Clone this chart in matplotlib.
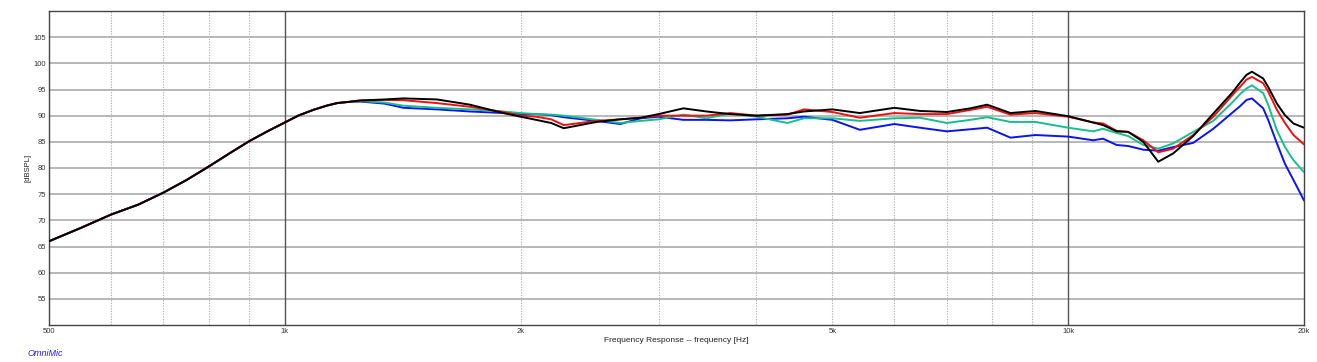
import matplotlib
matplotlib.use("Agg")
import matplotlib.pyplot as plt
from matplotlib.ticker import FixedLocator, NullLocator

plt.rcParams['font.family'] = ['Liberation Sans', 'DejaVu Sans']

# ---- data ----
freq = [500, 550, 600, 650, 700, 750, 800, 850, 900, 950, 1000,
        1040, 1087, 1130, 1166, 1200, 1248, 1341, 1418, 1564, 1723, 1900, 2000,
        2093, 2188, 2270, 2500, 2680, 2847, 3000, 3227, 3453, 3705, 4000, 4380,
        4600, 5000, 5420, 6000, 6470, 7000, 7500, 7880, 8440, 9080, 10000,
        10760, 11080, 11530, 11930, 12470, 13030, 13620, 14440, 15320, 16240,
        16570, 16890, 17160, 17740, 18000, 18470, 18910, 19390, 20000]

low = [66.0, 68.6, 71.1, 73.0, 75.3, 77.75, 80.3, 82.8, 85.1, 87.0, 88.7,
       90.0, 91.1, 91.9, 92.4, 92.6]

black = low + [92.9, 93.1, 93.3, 93.1, 92.1, 90.5, 89.8, 89.2, 88.6,
               87.6, 88.8, 89.3, 89.6, 90.3, 91.4, 90.8, 90.3, 90.0, 90.3, 90.8,
               91.2, 90.5, 91.5, 90.9, 90.7, 91.4, 92.1, 90.5, 90.9, 89.9, 88.7,
               88.2, 87.0, 86.9, 85.0, 81.2, 82.8, 86.1, 90.4, 94.6, 96.3, 97.8,
               98.4, 97.1, 95.5, 92.3, 90.1, 88.5, 87.7]
red = low + [92.9, 93.0, 92.95, 92.4, 91.7, 90.7, 90.0, 89.8, 89.3,
             88.2, 89.0, 89.3, 89.6, 90.0, 90.0, 90.0, 90.5, 90.0, 90.2, 91.2,
             90.7, 89.6, 90.5, 90.3, 90.3, 91.1, 91.7, 90.2, 90.5, 89.8, 88.7,
             88.5, 87.1, 86.9, 85.3, 83.0, 83.7, 86.3, 89.8, 94.1, 95.5, 96.9,
             97.4, 96.2, 94.6, 91.1, 88.6, 86.3, 84.5]
green = low + [92.8, 92.5, 91.9, 91.5, 91.2, 90.8, 90.5, 90.3, 90.2,
               90.0, 89.2, 88.6, 89.0, 89.3, 90.2, 89.5, 90.4, 89.8, 88.6, 89.5,
               89.5, 89.0, 89.5, 89.6, 88.6, 89.2, 89.7, 88.8, 88.8, 87.7, 87.0,
               87.5, 86.7, 86.1, 84.4, 83.7, 84.7, 86.9, 89.0, 92.7, 94.1, 95.2,
               95.8, 94.3, 92.1, 87.2, 84.0, 81.5, 79.2]
blue = low + [92.7, 92.3, 91.5, 91.2, 90.8, 90.5, 90.3, 90.3, 90.1,
              89.7, 89.0, 88.4, 89.5, 89.8, 89.2, 89.2, 89.1, 89.3, 89.5, 89.8,
              89.2, 87.3, 88.4, 87.7, 87.0, 87.4, 87.7, 85.8, 86.3, 86.0, 85.3,
              85.6, 84.4, 84.2, 83.5, 83.3, 84.0, 84.8, 87.5, 90.7, 91.8, 93.0,
              93.3, 91.4, 89.2, 84.7, 80.8, 77.7, 73.8]

xtick_vals = [500, 1000, 2000, 5000, 10000, 20000]
xtick_labels = ['500', '1k', '2k', '5k', '10k', '20k']
ytick_vals = [55, 60, 65, 70, 75, 80, 85, 90, 95, 100, 105]
minor_vals = [600, 700, 800, 900, 2000, 3000, 4000, 5000, 6000, 7000, 8000, 9000]
decade_vals = [1000, 10000]

# ---- figure ----
W, H = 1317, 362
fig = plt.figure(figsize=(W / 100, H / 100), dpi=100)
ax = fig.add_axes([49 / W, 1 - 325 / H, (1304 - 49) / W, (325 - 11) / H])

ax.set_xscale('log')
ax.set_xlim(500, 20000)
ax.set_ylim(50, 110)

for y in ytick_vals:
    ax.axhline(y, color='#a4a4a4', lw=1.1, zorder=1)
for x in minor_vals:
    ax.axvline(x, color='#b4b4b4', lw=0.8, ls=(0, (1.2, 1.2)), zorder=1)
for x in decade_vals:
    ax.axvline(x, color='#555555', lw=1.0, zorder=1)

kw = dict(lw=1.4, solid_joinstyle='round', solid_capstyle='round')
ax.plot(freq, blue, color='#0a14f0', zorder=3, **kw)
ax.plot(freq, green, color='#14c08c', zorder=4, **kw)
ax.plot(freq, red, color='#f01010', zorder=5, **kw)
ax.plot(freq, black, color='#000000', zorder=6, **kw)

ax.xaxis.set_major_locator(FixedLocator(xtick_vals))
ax.xaxis.set_minor_locator(NullLocator())
ax.set_xticklabels(xtick_labels)
ax.set_yticks(ytick_vals)
ax.set_yticklabels([str(v) for v in ytick_vals])
ax.tick_params(axis='both', length=0, labelsize=5.5, colors='#333333')
ax.tick_params(axis='x', pad=2)
ax.tick_params(axis='y', pad=2)

for s in ax.spines.values():
    s.set_color('#444444')
    s.set_linewidth(1.0)

fig.text(676 / W, 1 - 340 / H, 'Frequency Response -- frequency [Hz]',
         ha='center', va='center', fontsize=6, color='#222222')
fig.text(28 / W, 1 - 168 / H, '[dBSPL]', rotation=90,
         ha='center', va='center', fontsize=5.5, color='#222222')
fig.text(28 / W, 1 - 354 / H, 'OmniMic', ha='left', va='center',
         fontsize=6.5, style='italic', color='#2020ff')

fig.savefig('out.png', dpi=100, facecolor='white')
